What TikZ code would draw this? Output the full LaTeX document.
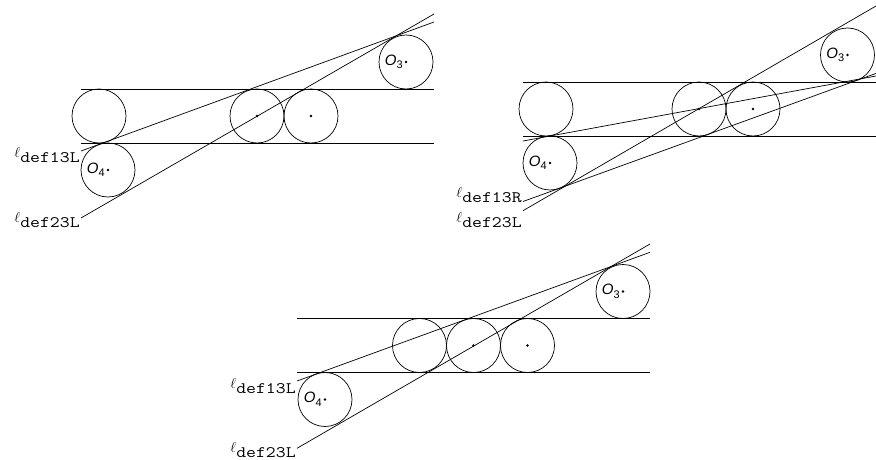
\documentclass[tikz,border=0pt]{standalone}
\usepackage{fontspec}
\setsansfont{Liberation Sans}
\usepackage{tikz}

\newcommand{\ellname}[1]{$\ell$\raisebox{-5pt}{\scalebox{1.2}[1]{\fontsize{16}{18}\ttfamily #1}}}
\newcommand{\oname}[1]{O\raisebox{-3.5pt}{\fontsize{11}{12}\selectfont\upshape #1}}

\begin{document}
\begin{tikzpicture}[x=1pt,y=-1pt,line width=0.7pt,
  lbl/.style={anchor=east,inner sep=1pt,font=\fontsize{15}{17}\selectfont},
  cname/.style={anchor=east,inner sep=0pt,font=\fontsize{15}{17}\sffamily\itshape}]
\useasboundingbox (0,0) rectangle (876,460);

% top left
\coordinate (A) at (99,116);
\coordinate (B) at (257,116);
\coordinate (C) at (311,116);
\coordinate (O3) at (406,62);
\coordinate (O4) at (108,170);
\coordinate (t1) at (81,89);    \coordinate (t2) at (434,89);
\coordinate (b1) at (81,143);   \coordinate (b2) at (434,143);
\coordinate (p1) at (81,151);   \coordinate (p2) at (434,22);
\coordinate (q1) at (81,218);   \coordinate (q2) at (434,14);
\draw (t1) -- (t2);
\draw (b1) -- (b2);
\draw (p1) -- (p2);
\draw (q1) -- (q2);
\foreach \c in {A,B,C,O3,O4}
{\draw (\c) circle (27pt);}
\foreach \c in {B,C,O3,O4}
{\fill (\c) circle (1.4pt);}
\node[cname] (o3a) at ([xshift=-3pt]O3) {\oname{3}};
\node[cname] (o4a) at ([xshift=-3pt]O4) {\oname{4}};
\node[lbl,yshift=-4pt] (l13a) at (p1) {\ellname{def13L}};
\node[lbl,yshift=-2.5pt] (l23a) at (q1) {\ellname{def23L}};

% top right
\coordinate (A) at (546,109);
\coordinate (B) at (699,109);
\coordinate (C) at (753,109);
\coordinate (O3) at (847.5,55);
\coordinate (O4) at (550,163);
\coordinate (t1) at (523,82);   \coordinate (t2) at (876,82);
\coordinate (b1) at (523,136);  \coordinate (b2) at (876,136);
\coordinate (m1) at (523,141);  \coordinate (m2) at (876,76);
\coordinate (p1) at (523,201.5);\coordinate (p2) at (876,73.4);
\coordinate (q1) at (523,210.7);\coordinate (q2) at (876,6);
\draw (t1) -- (t2);
\draw (b1) -- (b2);
\draw (m1) -- (m2);
\draw (p1) -- (p2);
\draw (q1) -- (q2);
\foreach \c in {A,B,C,O3,O4}
{\draw (\c) circle (27pt);}
\foreach \c in {B,C,O3,O4}
{\fill (\c) circle (1.4pt);}
\node[cname] (o3b) at ([xshift=-3pt]O3) {\oname{3}};
\node[cname] (o4b) at ([xshift=-3pt]O4) {\oname{4}};
\node[lbl,yshift=6pt] (l13b) at (p1) {\ellname{def13R}};
\node[lbl,yshift=-9pt] (l23b) at (q1) {\ellname{def23L}};

% bottom
\coordinate (A) at (419.5,345.5);
\coordinate (B) at (473.5,345.5);
\coordinate (C) at (527.5,345.5);
\coordinate (O3) at (623,291.5);
\coordinate (O4) at (325,399.5);
\coordinate (t1) at (297,318.5);\coordinate (t2) at (650,318.5);
\coordinate (b1) at (297,372.5);\coordinate (b2) at (650,372.5);
\coordinate (p1) at (297,381);  \coordinate (p2) at (650,252.3);
\coordinate (q1) at (297,448.3);\coordinate (q2) at (650,244);
\draw (t1) -- (t2);
\draw (b1) -- (b2);
\draw (p1) -- (p2);
\draw (q1) -- (q2);
\foreach \c in {A,B,C,O3,O4}
{\draw (\c) circle (27pt);}
\foreach \c in {B,C,O3,O4}
{\fill (\c) circle (1.4pt);}
\node[cname] (o3c) at ([xshift=-3pt]O3) {\oname{3}};
\node[cname] (o4c) at ([xshift=-3pt]O4) {\oname{4}};
\node[lbl,yshift=-5pt] (l13c) at (p1) {\ellname{def13L}};
\node[lbl,yshift=-2pt] (l23c) at (q1) {\ellname{def23L}};
\end{tikzpicture}
\end{document}
